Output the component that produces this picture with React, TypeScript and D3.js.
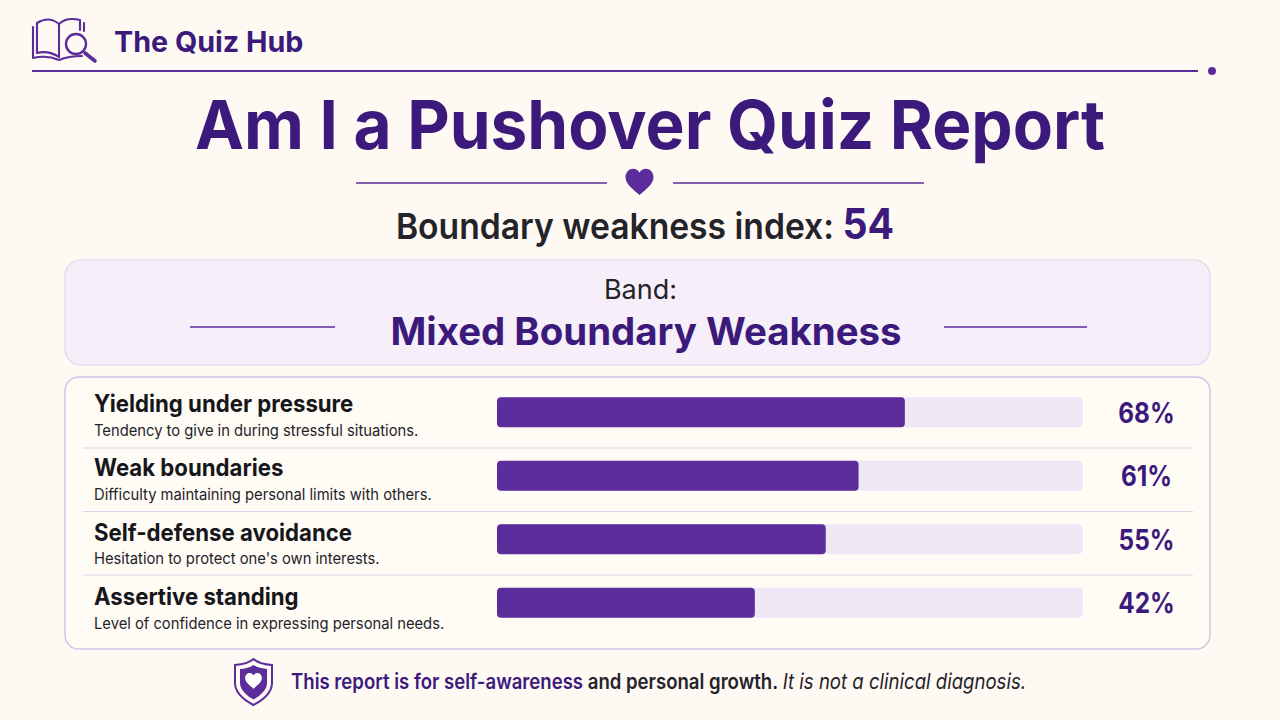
import React from "react";
import * as d3 from "d3";

const categories = ["Yielding under pressure", "Weak boundaries", "Self-defense avoidance", "Assertive standing"];
const descriptions = [
  "Tendency to give in during stressful situations.",
  "Difficulty maintaining personal limits with others.",
  "Hesitation to protect one's own interests.",
  "Level of confidence in expressing personal needs.",
];
const percentLabels = [68, 61, 55, 42];
// Bar lengths as drawn in the picture, as a share of the track
const barShares = [69.6, 61.7, 56.1, 44.0];

const DARK = "#3b1a7c";
const MID = "#5b2d9b";
const INK = "#232329";
const FONT = "Inter, 'Noto Sans', sans-serif";

const HEART = "M0 6.5 C-3 3.8 -7 1 -7 -2.4 C-7 -5 -5 -6.6 -3.2 -6.6 C-1.8 -6.6 -0.6 -5.8 0 -4.6 C0.6 -5.8 1.8 -6.6 3.2 -6.6 C5 -6.6 7 -5 7 -2.4 C7 1 3 3.8 0 6.5 Z";

export default function App() {
  const x = d3.scaleLinear().domain([0, 100]).range([497, 1083]);
  const y = d3.scaleBand<string>().domain(categories).range([380.5, 634.5]);
  const yText = d3.scaleBand<string>().domain(categories).range([379.8, 637.4]);
  const barH = 30;
  return (
    <svg width={1280} height={720} viewBox="0 0 1280 720" style={{ position: "absolute", left: 0, top: 0, fontFamily: FONT }}>
      <rect width={1280} height={720} fill="#fef9f3" />

      {/* Header */}
      <g fill="none" stroke={MID} strokeWidth={2.1} strokeLinejoin="round" strokeLinecap="round">
        <path d="M37 23 V53 C45 51 53 53 59 57" />
        <path d="M37 23 C45 18 53 19 59 24 V57" />
        <path d="M59 24 C64 19 72 18 80 20 V30" />
        <path d="M33 27 V58 C42 56 52 57 59 60 C66 57 74 56 82 56" />
        <path d="M84 23 V31" />
        <circle cx={76} cy={44} r={10} strokeWidth={2.4} fill="#fef9f3" />
        <path d="M85 53 L95 61" strokeWidth={3.6} />
      </g>
      <text x={114} y={52} fontSize={28.7} fontWeight={700} fill={DARK}>The Quiz Hub</text>
      <line x1={32} x2={1198} y1={71} y2={71} stroke={MID} strokeWidth={1.8} />
      <circle cx={1212} cy={71} r={4} fill={MID} />

      {/* Title */}
      <g transform="translate(650 149) scale(0.966 1)">
        <text textAnchor="middle" fontSize={68} fontWeight={700} fill={DARK}>Am I a Pushover Quiz Report</text>
      </g>
      <line x1={356} x2={607} y1={183} y2={183} stroke={MID} strokeWidth={1.6} />
      <line x1={673} x2={924} y1={183} y2={183} stroke={MID} strokeWidth={1.6} />
      <path d={HEART} transform="translate(639.5 182) scale(2)" fill={MID} />

      <g transform="translate(645 239) scale(0.935 1)">
        <text textAnchor="middle" fontSize={36} fontWeight={600} fill={INK}>
          Boundary weakness index:{" "}
          <tspan fill={DARK} fontSize={42} fontWeight={700}>54</tspan>
        </text>
      </g>

      {/* Band */}
      <rect x={65} y={260} width={1145} height={105} rx={16} fill="#f6eff9" stroke="#ded5ee" strokeWidth={1.2} />
      <text x={640.5} y={299} textAnchor="middle" fontSize={27} fill={INK}>Band:</text>
      <text x={646} y={345} textAnchor="middle" fontSize={38.4} fontWeight={700} fill={DARK}>Mixed Boundary Weakness</text>
      <line x1={190} x2={335} y1={327} y2={327} stroke={MID} strokeWidth={1.3} />
      <line x1={944} x2={1087} y1={327} y2={327} stroke={MID} strokeWidth={1.3} />

      {/* Table */}
      <rect x={65} y={377} width={1145} height={272} rx={14} fill="#fffbf5" stroke="#cfc3e6" strokeWidth={1.4} />
      {categories.map((c, i) => {
        const cy = (y(c) as number) + y.bandwidth() / 2;
        const ty = (yText(c) as number) + yText.bandwidth() / 2;
        return (
          <g key={c}>
            {i > 0 && (
              <line x1={83} x2={1193} y1={(y(c) as number) + 4} y2={(y(c) as number) + 4} stroke="#dcd5e8" strokeWidth={1.2} />
            )}
            <g transform={`translate(94 ${ty}) scale(0.925 1)`}>
              <text fontSize={24} fontWeight={700} fill="#17171b">{c}</text>
            </g>
            <g transform={`translate(94 ${ty + 23.5}) scale(0.923 1)`}>
              <text fontSize={16} fill={INK}>{descriptions[i]}</text>
            </g>
            <rect x={x(0)} y={cy - barH / 2} width={x(100) - x(0)} height={barH} rx={5} fill="#efe6f6" />
            <rect x={x(0)} y={cy - barH / 2} width={x(barShares[i]) - x(0)} height={barH} rx={4} fill={MID} />
            <g transform={`translate(1146.5 ${cy + 10.5}) scale(0.87 1)`}>
              <text textAnchor="middle" fontSize={28} fontWeight={700} fill={DARK}>{percentLabels[i]}%</text>
            </g>
          </g>
        );
      })}

      {/* Footer */}
      <path d="M253.5 659 C258 663 264 664.5 272 665 V683 C272 693 263 700 253.5 705 C244 700 235 693 235 683 V665 C243 664.5 249 663 253.5 659 Z" fill="none" stroke={MID} strokeWidth={2} />
      <path d="M253.5 665 C257 667.5 262 668.8 267 669 V683 C267 690 260 696 253.5 699.5 C247 696 240 690 240 683 V669 C245 668.8 250 667.5 253.5 665 Z" fill={MID} />
      <path d={HEART} transform="translate(253.5 681) scale(1.2)" fill="#fff" />
      <g transform="translate(291 689) scale(0.885 1)">
        <text fontSize={21} fontWeight={600} fill={DARK}>
          This report is for self-awareness{" "}
          <tspan fill={INK}>and personal growth.</tspan>{" "}
          <tspan fill={INK} fontWeight={400} fontStyle="italic">It is not a clinical diagnosis.</tspan>
        </text>
      </g>
    </svg>
  );
}
